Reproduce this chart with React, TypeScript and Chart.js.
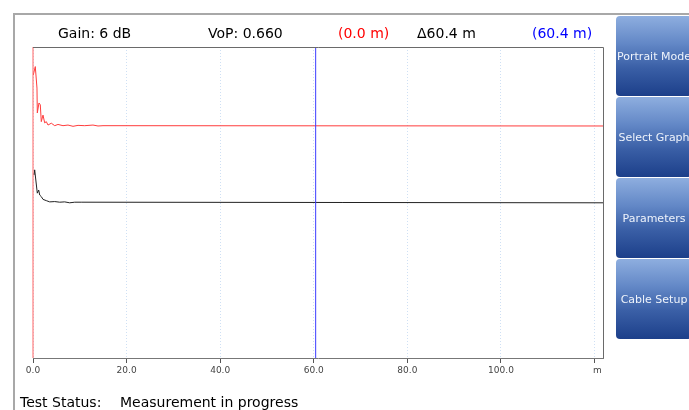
import React, { useEffect, useRef } from "react";
import { Chart, registerables } from "chart.js";

Chart.register(...registerables);

// Distance axis (m)
const xMin = 0;
const xMax = 121.8;
const xStep = 20;
const unitTick = 120;

// Trace 1 (red) distance (m) / amplitude (%)
const redX = [0.06, 0.49, 0.85, 0.92, 1.28, 1.56, 1.77, 2.14, 2.5, 2.84, 3.21, 3.91, 4.64, 5.34, 6.41, 7.48, 8.55, 9.62, 11.05, 12.82, 13.89, 14.96, 121.8];
const redY = [91.0, 93.7, 86.8, 78.8, 82.0, 81.4, 76.0, 78.1, 75.6, 76.0, 74.9, 75.5, 74.7, 75.1, 74.7, 74.9, 74.5, 74.8, 74.7, 74.9, 74.6, 74.7, 74.6];

// Trace 2 (black)
const blackX = [0.21, 0.36, 0.92, 1.22, 1.43, 1.77, 2.14, 2.84, 3.57, 4.64, 5.71, 6.77, 7.84, 8.91, 10.3, 121.8];
const blackY = [58.8, 60.5, 53.0, 54.0, 52.4, 51.9, 51.0, 50.6, 50.2, 50.3, 50.1, 50.2, 49.9, 50.1, 50.1, 49.9];

// Cursors (m)
const cursorA = 0.0;
const cursorB = 60.4;

// Header texts
const gainText = "Gain: 6 dB";
const vopText = "VoP: 0.660";
const cursorAText = "(0.0 m)";
const deltaText = "\u039460.4 m";
const cursorBText = "(60.4 m)";
const statusLabel = "Test Status:";
const statusText = "Measurement in progress";
const buttons = ["Portrait Mode", "Select Graph", "Parameters", "Cable Setup"];

const FONT = "'DejaVu Sans', Verdana, sans-serif";

export default function App() {
  const ref = useRef<HTMLCanvasElement | null>(null);

  useEffect(() => {
    const canvas = ref.current;
    if (!canvas) return;
    const frame = {
      id: "frame",
      afterDatasetsDraw(chart: any) {
        const { ctx, chartArea } = chart;
        ctx.save();
        ctx.strokeStyle = "#6a6a6a";
        ctx.lineWidth = 1;
        ctx.beginPath();
        ctx.moveTo(chartArea.left, Math.round(chartArea.top) + 0.5);
        ctx.lineTo(Math.round(chartArea.right) + 0.5, Math.round(chartArea.top) + 0.5);
        ctx.lineTo(Math.round(chartArea.right) + 0.5, chartArea.bottom);
        ctx.stroke();
        ctx.restore();
      },
    };
    const chart = new Chart(canvas, {
      type: "line",
      data: {
        datasets: [
          {
            data: [{ x: cursorA, y: 0 }, { x: cursorA, y: 100 }],
            borderColor: "#ff6262",
            borderWidth: 1,
            pointRadius: 0,
            clip: false,
          },
          {
            data: [{ x: cursorB, y: 0 }, { x: cursorB, y: 100 }],
            borderColor: "#3c3cff",
            borderWidth: 1,
            pointRadius: 0,
            clip: false,
          },
          {
            data: redX.map((x, i) => ({ x, y: redY[i] })),
            borderColor: "#ff3c3c",
            borderWidth: 1,
            pointRadius: 0,
          },
          {
            data: blackX.map((x, i) => ({ x, y: blackY[i] })),
            borderColor: "#222222",
            borderWidth: 1,
            pointRadius: 0,
          },
        ],
      },
      options: {
        animation: false,
        responsive: false,
        devicePixelRatio: 1,
        layout: { padding: { left: 33, top: 47, right: 86, bottom: 32 } },
        plugins: { legend: { display: false }, tooltip: { enabled: false } },
        scales: {
          x: {
            type: "linear",
            min: xMin,
            max: xMax,
            afterFit: (s: any) => {
              s.height = 20;
            },
            afterBuildTicks: (s: any) => {
              const t = [];
              for (let v = xMin; v <= unitTick; v += xStep) t.push({ value: v });
              s.ticks = t;
            },
            ticks: {
              autoSkip: false,
              maxRotation: 0,
              padding: 2,
              color: "#444444",
              font: { family: FONT, size: 9 },
              callback: (v: any) => (Number(v) === unitTick ? "  m" : Number(v).toFixed(1)),
            },
            grid: {
              color: "#cfe0f4",
              tickLength: 5,
              tickColor: "#555555",
              drawOnChartArea: true,
            },
            border: { display: true, color: "#777777", width: 1, dash: [1, 2] },
          },
          y: {
            display: false,
            min: 0,
            max: 100,
          },
        },
      },
      plugins: [frame],
    });
    return () => chart.destroy();
  }, []);

  const txt: React.CSSProperties = {
    position: "absolute",
    fontFamily: FONT,
    fontSize: 14,
    lineHeight: "16px",
    whiteSpace: "nowrap",
    color: "#000",
  };

  const btnTops = [16, 97, 178, 259];

  return (
    <div
      style={{
        position: "fixed",
        left: 0,
        top: 0,
        width: 689,
        height: 410,
        background: "#fff",
        overflow: "hidden",
      }}
    >
      <div style={{ position: "absolute", left: 13, top: 13, width: 700, height: 2, background: "#a8a8a8" }} />
      <div style={{ position: "absolute", left: 13, top: 13, width: 2, height: 400, background: "#a8a8a8" }} />
      <canvas ref={ref} width={689} height={410} style={{ position: "absolute", left: 0, top: 0, width: 689, height: 410 }} />
      <span style={{ ...txt, left: 58, top: 25 }}>{gainText}</span>
      <span style={{ ...txt, left: 208, top: 25 }}>{vopText}</span>
      <span style={{ ...txt, left: 338, top: 25, color: "#ff0000" }}>{cursorAText}</span>
      <span style={{ ...txt, left: 417, top: 25 }}>{deltaText}</span>
      <span style={{ ...txt, left: 532, top: 25, color: "#0000ff" }}>{cursorBText}</span>
      <span style={{ ...txt, left: 20, top: 394 }}>{statusLabel}</span>
      <span style={{ ...txt, left: 120, top: 394 }}>{statusText}</span>
      {buttons.map((b, i) => (
        <div
          key={b}
          style={{
            position: "absolute",
            left: 616,
            top: btnTops[i],
            width: 76,
            height: 80,
            borderRadius: 4,
            background: "linear-gradient(to bottom, #8eaedf 0%, #6287c6 35%, #3a5fa6 65%, #1c3f8a 100%)",
            color: "#eef3fb",
            fontFamily: FONT,
            fontSize: 11,
            display: "flex",
            alignItems: "center",
            justifyContent: "center",
            whiteSpace: "nowrap",
            overflow: "hidden",
          }}
        >
          {b}
        </div>
      ))}
    </div>
  );
}
